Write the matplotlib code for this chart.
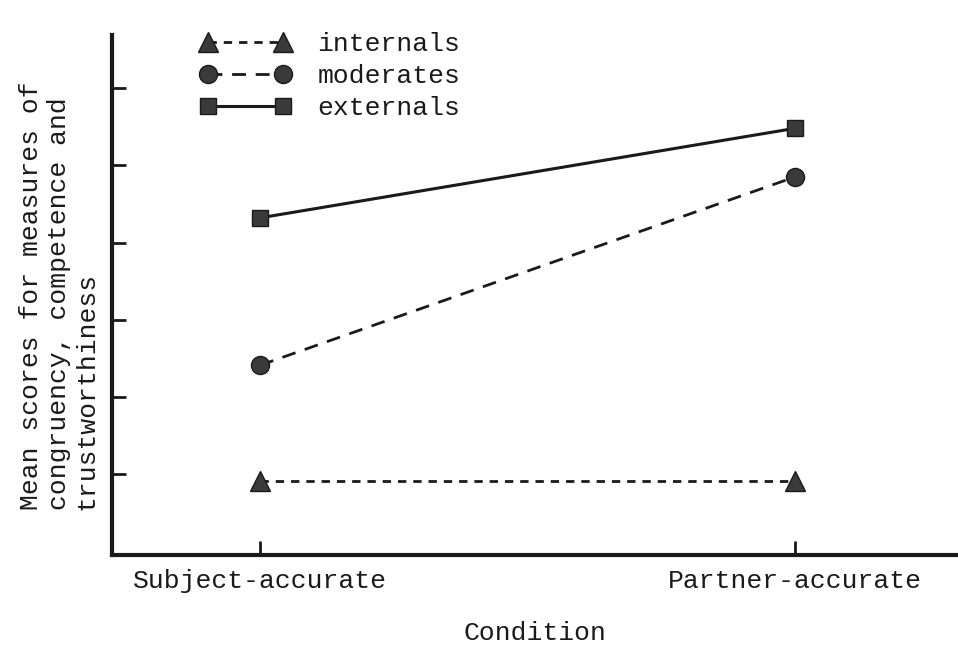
import matplotlib
matplotlib.use("Agg")
from matplotlib import pyplot as plt

# Data (y axis has no numbers, units = tick steps)
conditions = ["Subject-accurate", "Partner-accurate"]
internals = [0.91, 0.91]
moderates = [2.41, 4.85]
externals = [4.32, 5.48]
y_ticks = [1, 2, 3, 4, 5, 6]

plt.rcParams['font.family'] = ['Liberation Mono', 'DejaVu Sans Mono']
ink = "#1a1a1a"
fill = "#3a3a3a"
fs = 19

fig = plt.figure(figsize=(9.58, 6.46), dpi=100)
ax = fig.add_axes([112 / 958, 91 / 646, 846 / 958, 520 / 646])

xs = list(range(len(conditions)))
ax.plot(xs, internals, color=ink, lw=2.0, linestyle=(0, (3, 2.5)),
        marker="^", markersize=14, markerfacecolor=fill, markeredgecolor=ink,
        label="internals")
ax.plot(xs, moderates, color=ink, lw=2.0, linestyle=(0, (5, 3.5)),
        marker="o", markersize=13, markerfacecolor=fill, markeredgecolor=ink,
        label="moderates")
ax.plot(xs, externals, color=ink, lw=2.2, linestyle="-",
        marker="s", markersize=12, markerfacecolor=fill, markeredgecolor=ink,
        label="externals")

ax.set_xlim(-0.277, 1.305)
ax.set_ylim(-0.05, 6.69)
ax.set_xticks(xs)
ax.set_xticklabels(conditions, fontsize=fs, color=ink)
ax.set_yticks(y_ticks)
ax.set_yticklabels([])
ax.tick_params(direction="in", length=10, width=2, color=ink, pad=10)

for side in ["top", "right"]:
    ax.spines[side].set_visible(False)
for side in ["left", "bottom"]:
    ax.spines[side].set_linewidth(3)
    ax.spines[side].set_color(ink)

ax.set_xlabel("Condition", fontsize=fs, color=ink, labelpad=20)
fig.text(0.020, 136 / 646,
         "Mean scores for measures of\ncongruency, competence and\ntrustworthiness",
         rotation=90, fontsize=fs, color=ink, ha="left", va="bottom",
         multialignment="left", linespacing=1.2)

leg = ax.legend(loc="upper left", bbox_to_anchor=((200 - 112) / 846, (555 - 32) / 520),
                frameon=False, fontsize=fs, numpoints=2, handlelength=3.45,
                handletextpad=1.0, labelspacing=0.3, borderaxespad=0, borderpad=0)
for t in leg.get_texts():
    t.set_color(ink)

fig.savefig("out.png", dpi=100)
